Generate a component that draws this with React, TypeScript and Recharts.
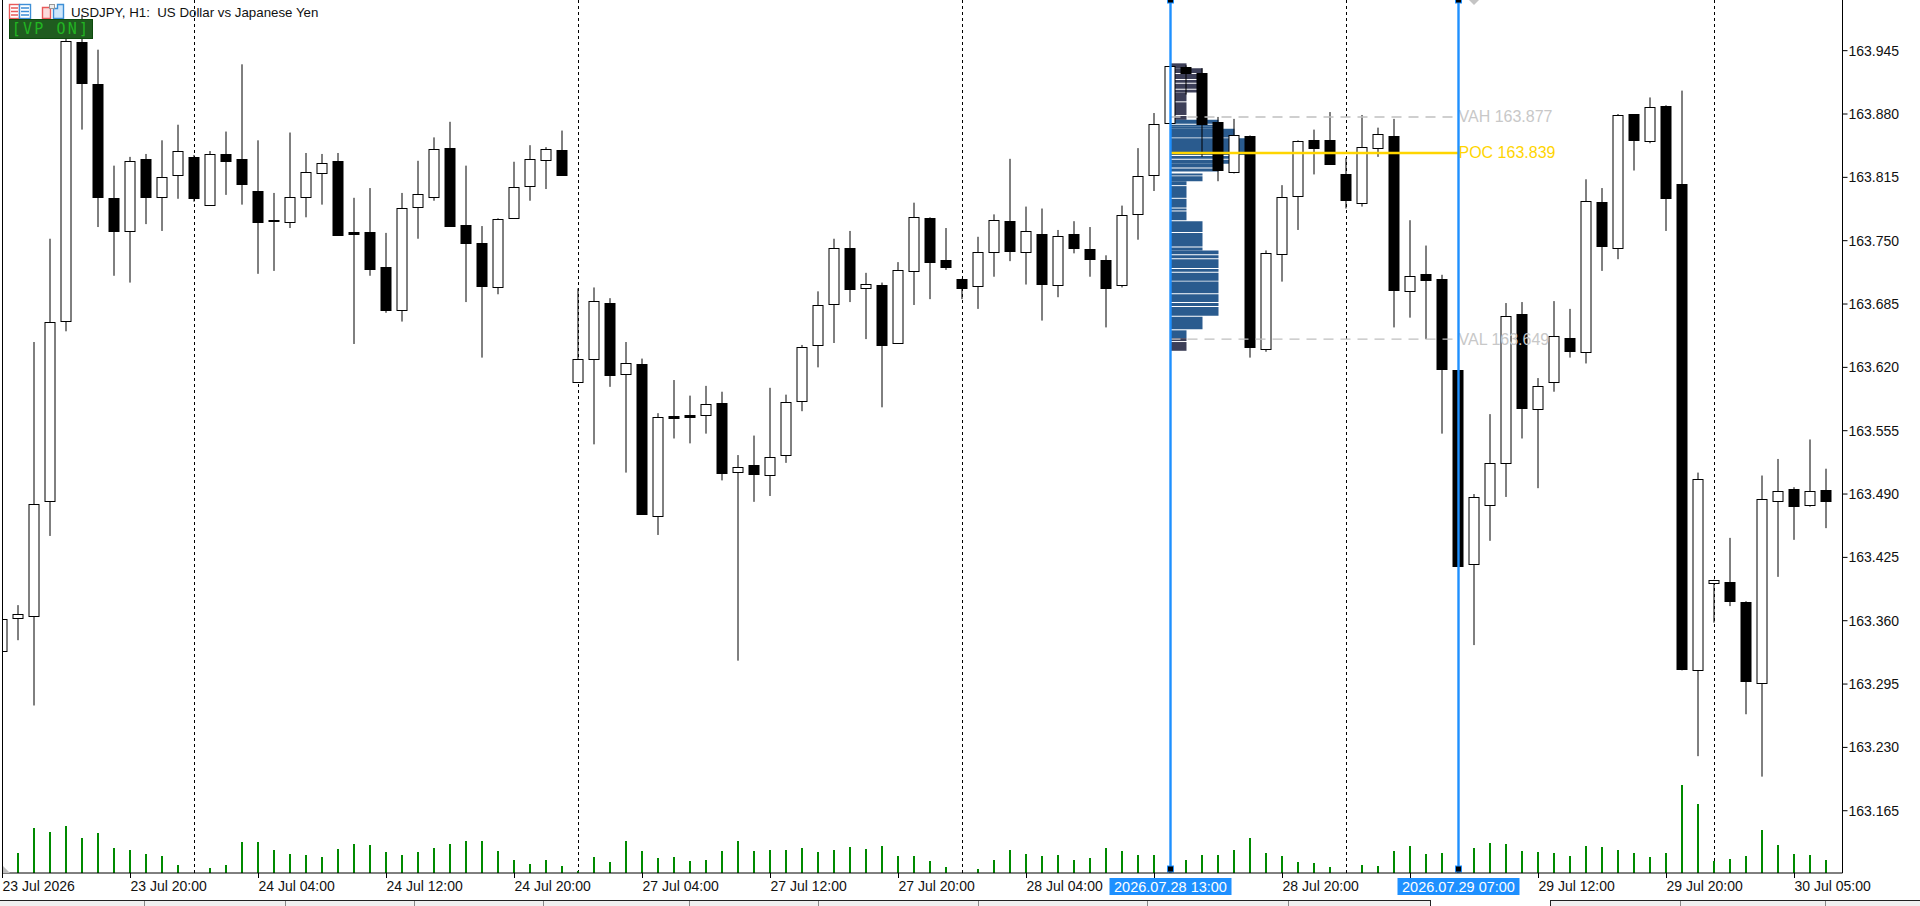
import React from "react";
import { ComposedChart, Bar, XAxis, YAxis, ReferenceLine, ReferenceArea } from "recharts";

const opens = [163.329,163.363,163.365,163.483,163.668,163.954,163.911,163.794,163.760,163.834,163.795,163.817,163.836,163.787,163.839,163.834,163.801,163.771,163.769,163.795,163.819,163.832,163.759,163.759,163.723,163.679,163.785,163.795,163.845,163.766,163.748,163.702,163.773,163.806,163.833,163.843,163.605,163.629,163.686,163.613,163.623,163.467,163.570,163.571,163.571,163.583,163.513,163.520,163.510,163.530,163.585,163.643,163.685,163.743,163.701,163.705,163.645,163.719,163.773,163.730,163.711,163.704,163.738,163.770,163.738,163.757,163.705,163.757,163.741,163.730,163.705,163.777,163.817,163.871,163.928,163.922,163.872,163.820,163.857,163.639,163.736,163.796,163.853,163.853,163.818,163.789,163.845,163.857,163.698,163.716,163.711,163.617,163.418,163.479,163.522,163.675,163.577,163.605,163.650,163.636,163.790,163.742,163.880,163.852,163.888,163.808,163.309,163.399,163.400,163.379,163.296,163.483,163.495,163.479,163.494];
const highs = [163.362,163.376,163.646,163.752,163.958,163.981,163.946,163.827,163.836,163.839,163.853,163.869,163.838,163.842,163.862,163.931,163.853,163.799,163.861,163.840,163.839,163.840,163.794,163.804,163.758,163.799,163.832,163.856,163.872,163.827,163.765,163.773,163.831,163.848,163.846,163.863,163.701,163.702,163.691,163.646,163.629,163.573,163.607,163.591,163.601,163.595,163.530,163.550,163.599,163.592,163.643,163.698,163.752,163.760,163.717,163.707,163.728,163.789,163.774,163.763,163.711,163.754,163.777,163.834,163.785,163.783,163.761,163.770,163.764,163.735,163.786,163.845,163.881,163.929,163.930,163.927,163.877,163.875,163.858,163.740,163.807,163.853,163.864,163.882,163.835,163.879,163.866,163.875,163.771,163.745,163.715,163.617,163.490,163.572,163.686,163.687,163.609,163.688,163.680,163.813,163.804,163.880,163.880,163.897,163.889,163.904,163.512,163.402,163.445,163.380,163.509,163.526,163.497,163.546,163.516];
const lows = [163.329,163.340,163.273,163.447,163.657,163.864,163.764,163.714,163.707,163.767,163.760,163.793,163.790,163.787,163.797,163.787,163.716,163.719,163.763,163.774,163.787,163.756,163.644,163.714,163.676,163.667,163.752,163.791,163.765,163.687,163.630,163.695,163.773,163.791,163.803,163.817,163.605,163.541,163.600,163.512,163.470,163.448,163.547,163.542,163.552,163.504,163.319,163.482,163.488,163.522,163.575,163.620,163.645,163.687,163.649,163.579,163.645,163.684,163.690,163.720,163.690,163.680,163.713,163.729,163.705,163.668,163.692,163.737,163.713,163.661,163.702,163.751,163.801,163.871,163.900,163.836,163.811,163.819,163.630,163.636,163.708,163.761,163.818,163.828,163.783,163.785,163.836,163.661,163.671,163.649,163.552,163.416,163.335,163.442,163.487,163.547,163.496,163.595,163.630,163.624,163.719,163.731,163.822,163.850,163.760,163.309,163.221,163.358,163.375,163.264,163.200,163.405,163.443,163.477,163.455];
const closes = [163.362,163.367,163.480,163.667,163.955,163.912,163.795,163.760,163.832,163.795,163.815,163.842,163.794,163.839,163.832,163.808,163.769,163.770,163.795,163.820,163.830,163.756,163.757,163.721,163.679,163.784,163.798,163.844,163.765,163.748,163.703,163.772,163.805,163.834,163.844,163.817,163.629,163.688,163.612,163.624,163.470,163.569,163.568,163.569,163.582,163.512,163.518,163.511,163.528,163.584,163.641,163.684,163.742,163.700,163.706,163.643,163.720,163.774,163.728,163.723,163.701,163.738,163.771,163.739,163.760,163.706,163.755,163.742,163.731,163.701,163.776,163.816,163.870,163.929,163.922,163.870,163.823,163.858,163.641,163.737,163.795,163.852,163.845,163.829,163.792,163.846,163.859,163.699,163.714,163.710,163.618,163.416,163.487,163.522,163.673,163.578,163.601,163.652,163.637,163.791,163.745,163.879,163.853,163.887,163.794,163.310,163.505,163.402,163.380,163.298,163.485,163.493,163.478,163.493,163.483];
const volumes = [0,20,45,41,47,35,40,25,23,19,17,8,0,5,8,31,31,23,19,18,16,24,29,28,21,18,21,25,29,32,32,22,13,9,13,7,2,16,11,32,22,15,16,12,13,22,32,22,23,23,25,21,23,26,24,27,17,17,12,6,0,4,13,23,19,17,18,13,15,25,22,18,18,2,13,18,18,23,35,20,17,11,10,6,0,8,7,22,27,19,20,2,25,30,29,22,21,20,17,27,26,23,20,16,20,88,69,12,14,17,43,28,19,18,13];

const priceTicks = [163.945,163.88,163.815,163.75,163.685,163.62,163.555,163.49,163.425,163.36,163.295,163.23,163.165];
const timeTicks = [0,8,16,24,32,40,48,56,64,72,80,88,96,104,112];
const timeLabels = ["23 Jul 2026","23 Jul 20:00","24 Jul 04:00","24 Jul 12:00","24 Jul 20:00","27 Jul 04:00","27 Jul 12:00","27 Jul 20:00","28 Jul 04:00","","28 Jul 20:00","","29 Jul 12:00","29 Jul 20:00","30 Jul 05:00"];
const daySeparators = [12,36,60,84,107];
const selectedBars = [73,91];
const selectedLabels = ["2026.07.28 13:00","2026.07.29 07:00"];

const profileTop = [163.932,163.927,163.921,163.915,163.911,163.905,163.902,163.892,163.878,163.874,163.869,163.867,163.865,163.855,163.843,163.837,163.833,163.829,163.824,163.819,163.816,163.811,163.806,163.793,163.783,163.780,163.770,163.758,163.743,163.740,163.735,163.731,163.721,163.717,163.708,163.695,163.686,163.682,163.672,163.658,163.650,163.646];
const profileBottom = [163.927,163.922,163.916,163.912,163.906,163.902,163.893,163.879,163.874,163.870,163.867,163.865,163.856,163.843,163.838,163.834,163.829,163.825,163.821,163.817,163.811,163.807,163.794,163.784,163.781,163.771,163.759,163.744,163.740,163.736,163.732,163.722,163.718,163.709,163.696,163.687,163.683,163.673,163.659,163.650,163.647,163.637];
const profileLength = [1,2,2,2,2,2,1,1,1,3,3,3,4,5,5,4,4,3,3,2,2,1,1,1,1,1,2,2,2,3,3,3,3,3,3,3,3,3,2,1,1,1];
const VAH = 163.877;
const POC = 163.84;
const VAL = 163.649;

const rows = opens.map((o, k) => ({ k, o, h: highs[k], l: lows[k], c: closes[k], v: volumes[k] }));

const PRICE_MIN = 163.1011;
const PRICE_MAX = 163.997;
const FONT = "'Liberation Sans', Arial, sans-serif";
const BLUE = "#1e90ff";

const Candle = (p: any) => {
  const { x, y, width, height, payload } = p;
  const cx = x + width / 2;
  const r = payload.h - payload.l;
  const py = (v: number) => y + ((payload.h - v) / r) * height;
  const up = payload.c >= payload.o;
  const top = Math.round(py(Math.max(payload.o, payload.c)));
  const bottom = Math.round(py(Math.min(payload.o, payload.c)));
  return (
    <g>
      <line x1={cx} x2={cx} y1={y} y2={y + height} stroke="#000" strokeWidth={1} />
      <rect
        x={cx - 5}
        y={top + 0.5}
        width={10}
        height={Math.max(bottom - top, 1)}
        fill={up ? "#fff" : "#000"}
        stroke="#000"
        strokeWidth={1}
      />
    </g>
  );
};

const VolumeStick = (p: any) => {
  const { x, y, width, height } = p;
  if (!height) return <g />;
  return <rect x={x + width / 2 - 1.5} y={y} width={2} height={height} fill="#008a00" />;
};

const TimeTick = (p: any) => {
  const i = timeTicks.indexOf(p.payload.value);
  return (
    <text x={p.x} y={p.y + 13} fontFamily={FONT} fontSize={14} fill="#111" textAnchor="start">
      {timeLabels[i]}
    </text>
  );
};

const selectionLabel = (text: string) => (p: any) => {
  const { x, y, height } = p.viewBox;
  return (
    <g>
      <rect x={x - 3} y={y - 1} width={6} height={4} fill="#000" stroke={BLUE} strokeWidth={1} />
      <rect x={x - 3} y={y + height - 7} width={6} height={6} fill="#000" stroke={BLUE} strokeWidth={1} />
      <rect x={x - 61} y={y + height + 5} width={122} height={17} fill={BLUE} />
      <text x={x} y={y + height + 19} fontFamily={FONT} fontSize={14.5} fill="#fff" textAnchor="middle">
        {text}
      </text>
    </g>
  );
};

const levelLabel = (text: string, color: string) => (p: any) => {
  const { x, y, width } = p.viewBox;
  return (
    <text x={x + width} y={y + 5.5} fontFamily={FONT} fontSize={16} fill={color}>
      {text}
    </text>
  );
};

const tabSeparators = [144, 285, 414, 543, 689, 818, 978, 1147, 1288, 1680, 1825];

export default function App() {
  return (
    <div style={{ position: "fixed", left: 0, top: 0, width: 1920, height: 906, background: "#fff", overflow: "hidden" }}>
      <ComposedChart
        width={1920}
        height={906}
        data={rows}
        margin={{ top: 0, right: 0, bottom: 0, left: 2.5 }}
        barGap={0}
      >
        <XAxis
          xAxisId="t"
          type="number"
          dataKey="k"
          domain={[0, 115]}
          ticks={timeTicks}
          interval={0}
          allowDataOverflow
          height={33}
          tickSize={5}
          tickMargin={0}
          tick={<TimeTick />}
          stroke="#000"
        />
        <XAxis
          xAxisId="tv"
          type="number"
          dataKey="k"
          domain={[0, 115]}
          ticks={timeTicks}
          allowDataOverflow
          hide
        />
        <YAxis
          yAxisId="p"
          orientation="right"
          type="number"
          domain={[PRICE_MIN, PRICE_MAX]}
          ticks={priceTicks}
          interval={0}
          allowDataOverflow
          width={77.5}
          tickSize={5}
          tickMargin={1}
          tickFormatter={(v: number) => v.toFixed(3)}
          tick={{ fontFamily: FONT, fontSize: 14, fill: "#111" }}
          stroke="#000"
        />
        <YAxis yAxisId="v" hide type="number" domain={[0, 873]} allowDataOverflow />

        <ReferenceLine xAxisId="t" yAxisId="p" x={0} stroke="#000" strokeWidth={1} />
        {daySeparators.map((k) => (
          <ReferenceLine
            key={k}
            xAxisId="t"
            yAxisId="p"
            x={k}
            stroke="#000"
            strokeWidth={1}
            strokeDasharray="3 3"
            {...({ zIndex: 150 } as any)}
          />
        ))}
        {profileTop.map((t, i) => {
          const outside = t > VAH + 0.0005 || profileBottom[i] < VAL - 0.0005;
          return (
            <ReferenceArea
              key={i}
              xAxisId="t"
              yAxisId="p"
              x1={selectedBars[0]}
              x2={selectedBars[0] + profileLength[i]}
              y1={profileBottom[i]}
              y2={t}
              fill={outside ? "#3d3f58" : "#2a5b8e"}
              fillOpacity={1}
              stroke="none"
              ifOverflow="visible"
            />
          );
        })}
        <Bar xAxisId="tv" yAxisId="v" dataKey="v" barSize={2} isAnimationActive={false} shape={<VolumeStick />} />
        <Bar
          xAxisId="t"
          yAxisId="p"
          dataKey={(d: any) => [d.l, d.h]}
          barSize={11}
          isAnimationActive={false}
          shape={<Candle />}
        />
        <ReferenceLine
          xAxisId="t"
          yAxisId="p"
          segment={[{ x: selectedBars[0], y: VAH }, { x: selectedBars[1], y: VAH }]}
          stroke="#c0c0c0"
          strokeWidth={1.4}
          strokeDasharray="10 7"
          label={levelLabel("VAH 163.877", "#c8c8c8")}
        />
        <ReferenceLine
          xAxisId="t"
          yAxisId="p"
          segment={[{ x: selectedBars[0], y: VAL }, { x: selectedBars[1], y: VAL }]}
          stroke="#c0c0c0"
          strokeWidth={1.4}
          strokeDasharray="10 7"
          label={levelLabel("VAL 163.649", "#c8c8c8")}
        />
        <ReferenceLine
          xAxisId="t"
          yAxisId="p"
          segment={[{ x: selectedBars[0], y: POC }, { x: selectedBars[1], y: POC }]}
          stroke="#ffd500"
          strokeWidth={2.5}
          label={levelLabel("POC 163.839", "#ffd500")}
        />
        {selectedBars.map((k, i) => (
          <ReferenceLine
            key={k}
            xAxisId="t"
            yAxisId="p"
            x={k}
            stroke={BLUE}
            strokeWidth={2.4}
            label={selectionLabel(selectedLabels[i])}
          />
        ))}
      </ComposedChart>

      <svg width={1920} height={906} style={{ position: "absolute", left: 0, top: 0, pointerEvents: "none" }}>
        {/* chart-window furniture */}
        <polygon points="3,866 10,873 3,873" fill="#bdbdbd" />
        <polygon points="1469,0 1479,0 1474,5" fill="#c4c4c4" />

        <rect x={0} y={900} width={1431} height={6} fill="#f0f0f0" />
        <rect x={1550} y={900} width={370} height={6} fill="#f0f0f0" />
        <rect x={0} y={900} width={1431} height={1} fill="#222" />
        <rect x={1550} y={900} width={370} height={1} fill="#222" />
        <rect x={1430} y={900} width={1} height={6} fill="#222" />
        <rect x={1550} y={900} width={1} height={6} fill="#222" />
        {tabSeparators.map((x) => (
          <rect key={x} x={x} y={901} width={1} height={5} fill="#888" />
        ))}

        {/* toolbar icons */}
        <rect x={9.5} y={4.5} width={10} height={14} fill="#fff" stroke="#e85a5a" strokeWidth={1.4} />
        <rect x={19.5} y={4.5} width={11} height={14} fill="#fff" stroke="#3d8fd6" strokeWidth={1.4} />
        <path d="M11 8h7M11 11.5h7M11 15h7" stroke="#e85a5a" strokeWidth={1.4} />
        <path d="M21 8h8M21 11.5h8M21 15h8" stroke="#3d8fd6" strokeWidth={1.4} />
        <path d="M42.5 7.5h8v11h-8z" fill="#fbdcdc" stroke="#e85a5a" strokeWidth={1.4} />
        <path d="M53.5 8.5h4v-4h6v14h-10z" fill="#cfe6fa" stroke="#3d8fd6" strokeWidth={1.4} />
        <rect x={49.5} y={4.5} width={5} height={4} fill="#eee" stroke="#999" />
      </svg>

      <div
        style={{
          position: "absolute",
          left: 71,
          top: 5,
          fontFamily: FONT,
          fontSize: 13.3,
          lineHeight: "16px",
          color: "#111",
          whiteSpace: "pre",
        }}
      >
        {"USDJPY, H1:  US Dollar vs Japanese Yen"}
      </div>
      <div
        style={{
          position: "absolute",
          left: 9,
          top: 19,
          width: 84,
          height: 20,
          boxSizing: "border-box",
          background: "#1f5c1f",
          border: "1px solid #0c4a0c",
          color: "#22b522",
          fontFamily: "'DejaVu Sans Mono', monospace",
          fontSize: 15,
          lineHeight: "18px",
          letterSpacing: 2.2,
          textAlign: "center",
          whiteSpace: "pre",
        }}
      >
        {"[VP ON]"}
      </div>
    </div>
  );
}
